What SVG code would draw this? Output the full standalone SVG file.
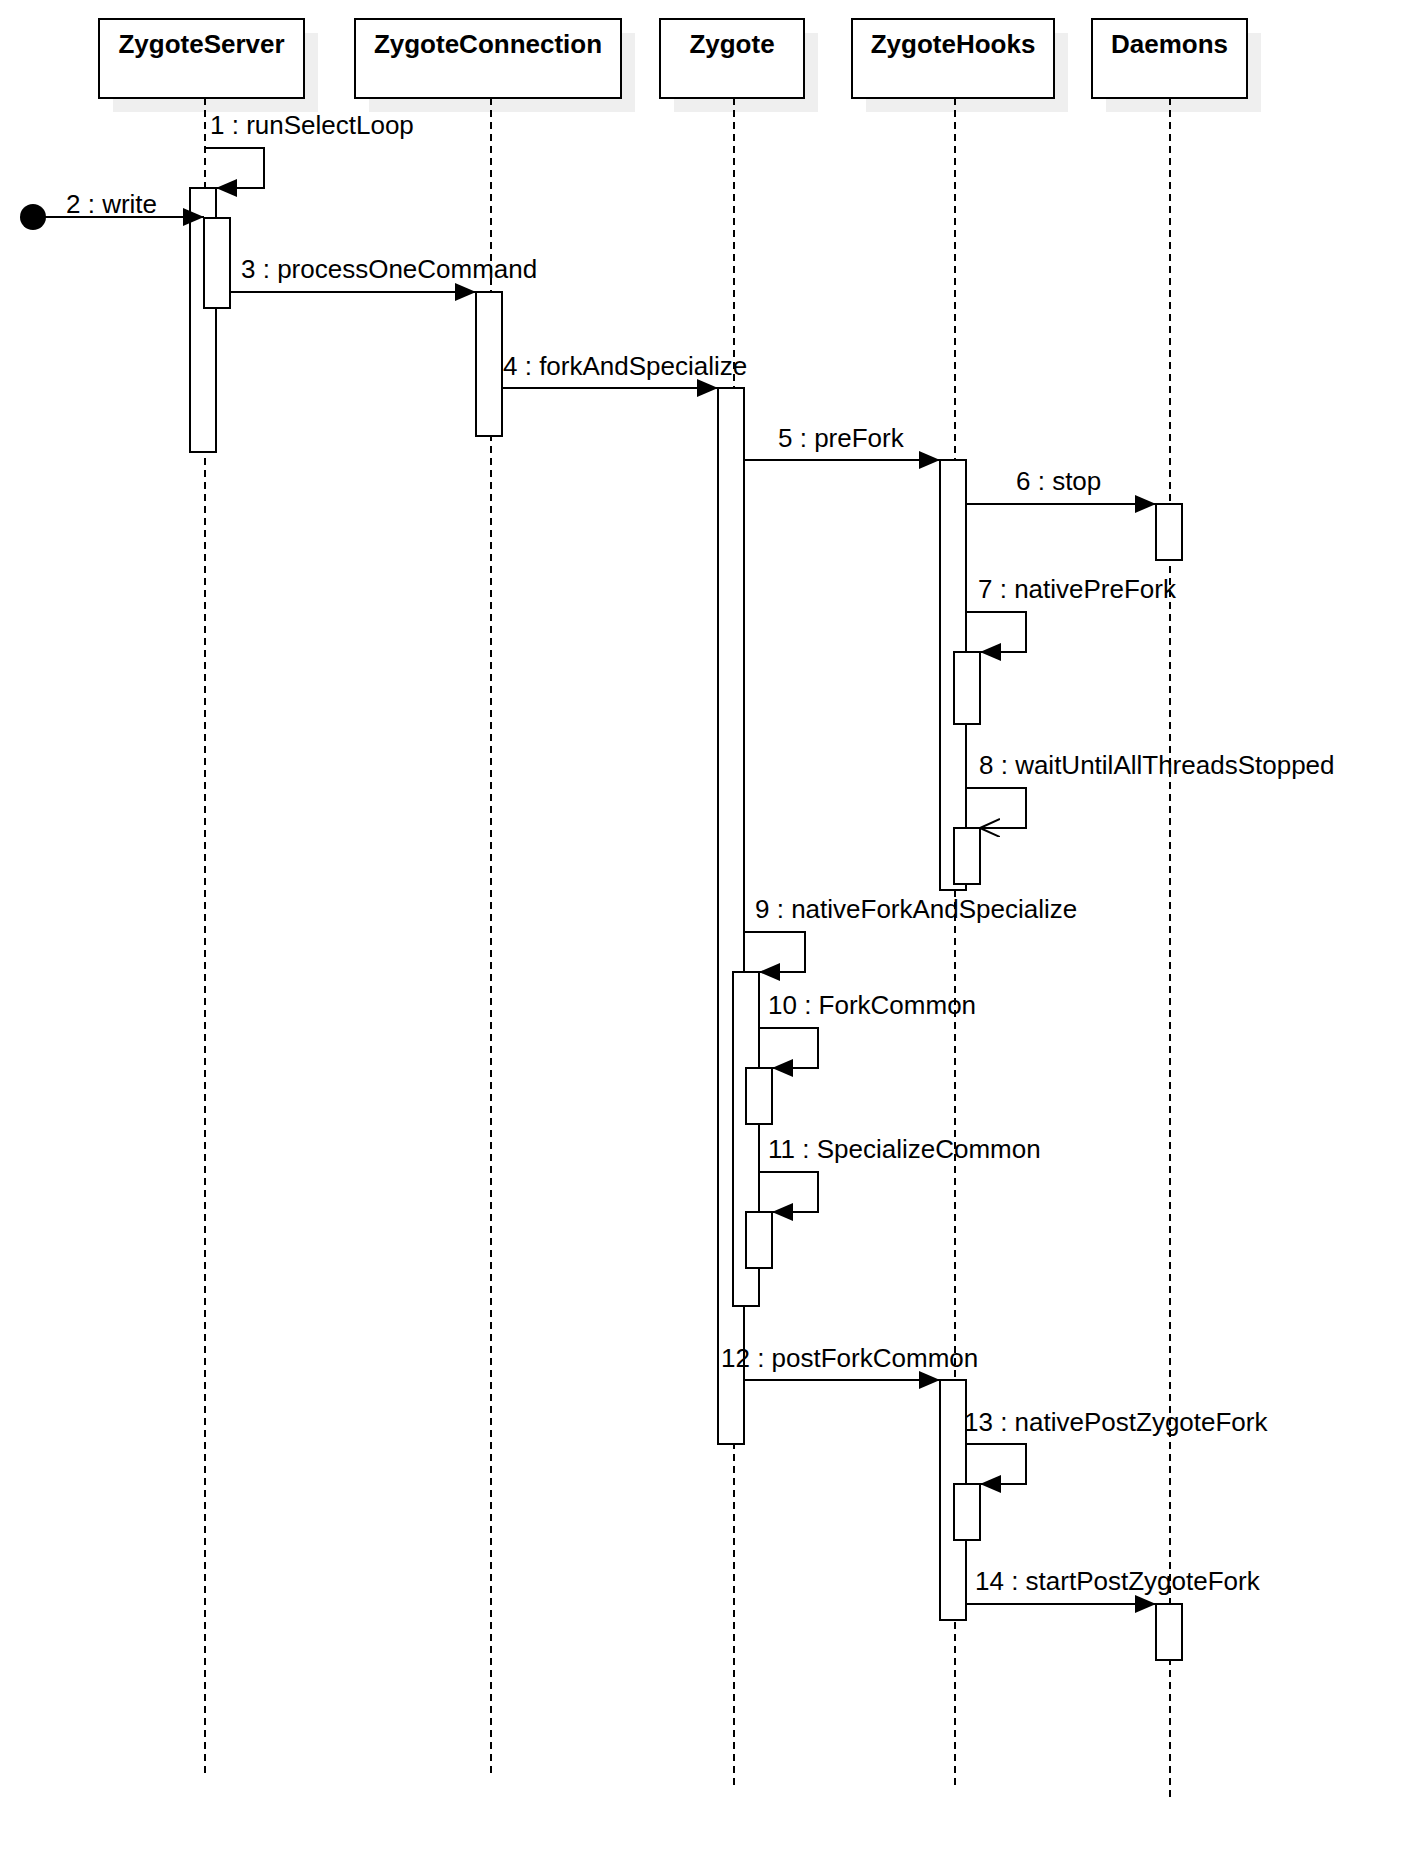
<svg xmlns="http://www.w3.org/2000/svg" width="1412" height="1876" viewBox="0 0 1412 1876">
<style>
.shadow{fill:#efefef;stroke:none}
.box{fill:#fff;stroke:#000;stroke-width:2}
.title{font-family:"Liberation Sans",Arial,sans-serif;font-size:26px;font-weight:bold;text-anchor:middle;fill:#000}
.life{stroke:#000;stroke-width:2;stroke-dasharray:7 5;fill:none}
.bar{fill:#fff;stroke:#000;stroke-width:2}
.msg{stroke:#000;stroke-width:2;fill:none}
.lbl{font-family:"Liberation Sans",Arial,sans-serif;font-size:26px;fill:#000}
</style>
<defs>
<marker id="fa" markerUnits="userSpaceOnUse" markerWidth="22" markerHeight="20" refX="21" refY="9" orient="auto">
<path d="M0,0 L21,9 L0,18 z" fill="#000"/>
</marker>
<marker id="oa" markerUnits="userSpaceOnUse" markerWidth="22" markerHeight="20" refX="20" refY="9" orient="auto">
<path d="M0,0 L20,9 L0,18" fill="none" stroke="#000" stroke-width="2"/>
</marker>
</defs>
<rect width="1412" height="1876" fill="#fff"/>

<g id="ZygoteServer">
<rect class="shadow" x="113" y="33" width="205" height="79"/>
<rect class="box" x="99" y="19" width="205" height="79"/>
<text class="title" x="201.5" y="53">ZygoteServer</text>
<line class="life" x1="205" y1="98" x2="205" y2="1773"/>
<rect class="bar" x="190" y="188" width="26" height="264"/>
<rect class="bar" x="204" y="218" width="26" height="90"/>
</g>

<g id="ZygoteConnection">
<rect class="shadow" x="369" y="33" width="266" height="79"/>
<rect class="box" x="355" y="19" width="266" height="79"/>
<text class="title" x="488" y="53">ZygoteConnection</text>
<line class="life" x1="491" y1="98" x2="491" y2="1773"/>
<rect class="bar" x="476" y="292" width="26" height="144"/>
</g>

<g id="Zygote">
<rect class="shadow" x="674" y="33" width="144" height="79"/>
<rect class="box" x="660" y="19" width="144" height="79"/>
<text class="title" x="732" y="53">Zygote</text>
<line class="life" x1="734" y1="98" x2="734" y2="1787"/>
<rect class="bar" x="718" y="388" width="26" height="1056"/>
<rect class="bar" x="733" y="972" width="26" height="334"/>
<rect class="bar" x="746" y="1068" width="26" height="56"/>
<rect class="bar" x="746" y="1212" width="26" height="56"/>
</g>

<g id="ZygoteHooks">
<rect class="shadow" x="866" y="33" width="202" height="79"/>
<rect class="box" x="852" y="19" width="202" height="79"/>
<text class="title" x="953" y="53">ZygoteHooks</text>
<line class="life" x1="955" y1="98" x2="955" y2="1787"/>
<rect class="bar" x="940" y="460" width="26" height="430"/>
<rect class="bar" x="954" y="652" width="26" height="72"/>
<rect class="bar" x="954" y="828" width="26" height="56"/>
<rect class="bar" x="940" y="1380" width="26" height="240"/>
<rect class="bar" x="954" y="1484" width="26" height="56"/>
</g>

<g id="Daemons">
<rect class="shadow" x="1106" y="33" width="155" height="79"/>
<rect class="box" x="1092" y="19" width="155" height="79"/>
<text class="title" x="1169.5" y="53">Daemons</text>
<line class="life" x1="1170" y1="98" x2="1170" y2="1797"/>
<rect class="bar" x="1156" y="504" width="26" height="56"/>
<rect class="bar" x="1156" y="1604" width="26" height="56"/>
</g>

<g id="connectors">
<path class="msg" d="M205,148 H264 V188 H216" marker-end="url(#fa)"/>
<text class="lbl" x="210" y="134">1 : runSelectLoop</text>

<circle cx="33" cy="217" r="13" fill="#000"/>
<line class="msg" x1="33" y1="217" x2="204" y2="217" marker-end="url(#fa)"/>
<text class="lbl" x="66" y="213">2 : write</text>

<line class="msg" x1="230" y1="292" x2="476" y2="292" marker-end="url(#fa)"/>
<text class="lbl" x="241" y="278">3 : processOneCommand</text>

<line class="msg" x1="502" y1="388" x2="718" y2="388" marker-end="url(#fa)"/>
<text class="lbl" x="503" y="375">4 : forkAndSpecialize</text>

<line class="msg" x1="744" y1="460" x2="940" y2="460" marker-end="url(#fa)"/>
<text class="lbl" x="778" y="447">5 : preFork</text>

<line class="msg" x1="966" y1="504" x2="1156" y2="504" marker-end="url(#fa)"/>
<text class="lbl" x="1016" y="490">6 : stop</text>

<path class="msg" d="M966,612 H1026 V652 H980" marker-end="url(#fa)"/>
<text class="lbl" x="978" y="598">7 : nativePreFork</text>

<path class="msg" d="M966,788 H1026 V828 H980" marker-end="url(#oa)"/>
<text class="lbl" x="979" y="774">8 : waitUntilAllThreadsStopped</text>

<path class="msg" d="M744,932 H805 V972 H759" marker-end="url(#fa)"/>
<text class="lbl" x="755" y="918">9 : nativeForkAndSpecialize</text>

<path class="msg" d="M759,1028 H818 V1068 H772" marker-end="url(#fa)"/>
<text class="lbl" x="768" y="1014">10 : ForkCommon</text>

<path class="msg" d="M759,1172 H818 V1212 H772" marker-end="url(#fa)"/>
<text class="lbl" x="768" y="1158">11 : SpecializeCommon</text>

<line class="msg" x1="744" y1="1380" x2="940" y2="1380" marker-end="url(#fa)"/>
<text class="lbl" x="721" y="1367">12 : postForkCommon</text>

<path class="msg" d="M966,1444 H1026 V1484 H980" marker-end="url(#fa)"/>
<text class="lbl" x="964" y="1431">13 : nativePostZygoteFork</text>

<line class="msg" x1="966" y1="1604" x2="1156" y2="1604" marker-end="url(#fa)"/>
<text class="lbl" x="975" y="1590">14 : startPostZygoteFork</text>
</g>
</svg>
